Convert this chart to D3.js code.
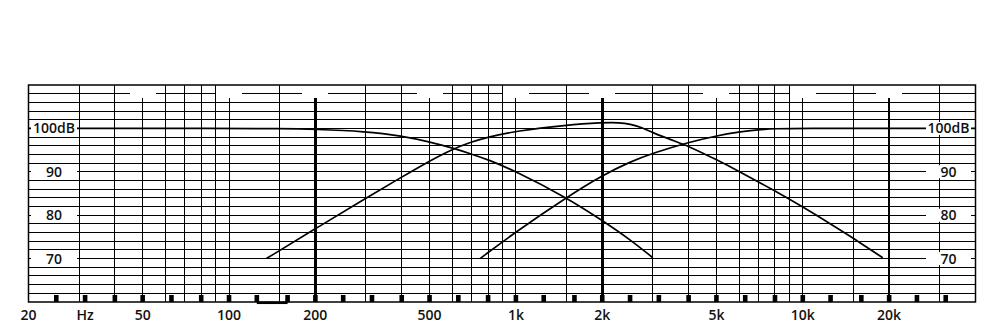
<!DOCTYPE html>
<html>
<head>
<meta charset="utf-8">
<script src="https://cdn.jsdelivr.net/npm/d3@7"></script>
<style>
  body { margin: 0; background: #fff; }
  text { font-family: "Open Sans", "DejaVu Sans", sans-serif; font-weight: 600; fill: #111; }
</style>
</head>
<body>
<div id="chart"></div>
<script>
// vertical grid lines (Hz)
var gridFull = [30, 40, 60, 70, 80, 90, 150, 300, 400, 600, 700, 800, 900,
    1500, 3000, 4000, 6000, 7000, 8000, 9000, 15000, 30000];
var gridShort = [50, 100, 500, 1000, 5000, 10000];
var gridBold = [200, 2000, 20000];

// third octave marks on the bottom edge
var bandTicks = [25, 31.5, 40, 50, 63, 80, 100, 125, 160, 200, 250, 315, 400, 500, 630, 800,
    1000, 1250, 1600, 2000, 2500, 3150, 4000, 5000, 6300, 8000, 10000, 12500, 16000, 20000, 25000, 31500];
var bracketBand = [125, 160];

var xTickValues = [20, 31.5, 50, 100, 200, 500, 1000, 2000, 5000, 10000, 20000];
var xTickLabels = ["20", "Hz", "50", "100", "200", "500", "1k", "2k", "5k", "10k", "20k"];

var yTickValues = [100, 90, 80, 70];
var yTickLabels = ["100dB", "90", "80", "70"];

// responses [Hz, dB]
var lowCurve = [[20, 100], [100, 100], [150, 99.95], [200, 99.8], [300, 99.3], [400, 98.3],
    [500, 96.9], [600, 95.5], [700, 94.1], [800, 92.8], [1000, 90.1], [1500, 84.1],
    [2000, 78.8], [2500, 74.4], [3000, 70.2]];
var midCurve = [[135, 70], [200, 76.9], [300, 83.9], [400, 88.8], [500, 92.5], [600, 95.2],
    [700, 96.9], [800, 98.0], [1000, 99.4], [1500, 100.8], [2000, 101.35], [2300, 101.35],
    [2500, 101.0], [2750, 100.2], [3000, 99.0], [3500, 97.3], [4000, 95.9], [5000, 92.8],
    [6000, 90.1], [8000, 85.6], [10000, 81.9], [12500, 78.0], [15000, 74.7], [19000, 70.2]];
var highCurve = [[750, 70], [1000, 76.2], [1500, 84.1], [2000, 89.2], [2500, 92.3], [3000, 94.3],
    [4000, 96.8], [5000, 98.3], [6000, 99.2], [7000, 99.7], [8000, 99.95], [10000, 100.05],
    [20000, 100], [40000, 100]];

var width = 998,
    height = 324;

var x = d3.scaleLog().domain([20, 40000]).range([28.5, 975.5]);
var y = d3.scaleLinear().domain([60, 110]).range([302, 85]);

var svg = d3.select("#chart").append("svg")
    .attr("width", width)
    .attr("height", height);

var grid = svg.append("g")
    .attr("stroke", "#000")
    .attr("shape-rendering", "crispEdges");

// horizontal lines every 2 dB (108 has gaps over the short lines)
var dbLines = d3.range(62, 108, 2);
grid.selectAll(".hline").data(dbLines).enter().append("line")
    .attr("class", "hline")
    .attr("x1", x.range()[0]).attr("x2", x.range()[1])
    .attr("y1", function (d) { return y(d); })
    .attr("y2", function (d) { return y(d); })
    .attr("stroke-width", 1);

var gapFreqs = gridShort.concat(gridBold).sort(d3.ascending);
var segs = [], start = x.range()[0];
gapFreqs.forEach(function (f) {
    segs.push([start, x(f) - 13]);
    start = x(f) + 13;
});
segs.push([start, x.range()[1]]);
grid.selectAll(".topline").data(segs).enter().append("line")
    .attr("class", "topline")
    .attr("x1", function (d) { return d[0]; })
    .attr("x2", function (d) { return d[1]; })
    .attr("y1", y(108)).attr("y2", y(108))
    .attr("stroke-width", 1);

grid.selectAll(".vfull").data(gridFull).enter().append("line")
    .attr("class", "vfull")
    .attr("x1", function (d) { return x(d); })
    .attr("x2", function (d) { return x(d); })
    .attr("y1", y(110)).attr("y2", y(60))
    .attr("stroke-width", 1);

grid.selectAll(".vshort").data(gridShort).enter().append("line")
    .attr("class", "vshort")
    .attr("x1", function (d) { return x(d); })
    .attr("x2", function (d) { return x(d); })
    .attr("y1", y(107)).attr("y2", y(60))
    .attr("stroke-width", 1);

grid.selectAll(".vbold").data(gridBold).enter().append("line")
    .attr("class", "vbold")
    .attr("x1", function (d) { return x(d); })
    .attr("x2", function (d) { return x(d); })
    .attr("y1", y(107)).attr("y2", y(60))
    .attr("stroke-width", 2.5);

// response curves
var line = d3.line()
    .x(function (d) { return x(d[0]); })
    .y(function (d) { return y(d[1]); })
    .curve(d3.curveBasis);

svg.selectAll(".curve").data([lowCurve, midCurve, highCurve]).enter().append("path")
    .attr("class", "curve")
    .attr("d", line)
    .attr("fill", "none")
    .attr("stroke", "#000")
    .attr("stroke-width", 1.7);

// dB labels on both sides, masking the lines behind them
[[31, 77], [926, 971]].forEach(function (side) {
    var g = svg.append("g");
    g.selectAll("rect").data(yTickValues).enter().append("rect")
        .attr("x", side[0])
        .attr("width", side[1] - side[0])
        .attr("y", function (d) { return y(d) - 6.5; })
        .attr("height", 13)
        .attr("fill", "#fff");
    g.selectAll("text").data(yTickValues).enter().append("text")
        .attr("x", (side[0] + side[1]) / 2)
        .attr("y", function (d) { return y(d); })
        .attr("dy", "0.36em")
        .attr("text-anchor", "middle")
        .style("font-size", "14px")
        .text(function (d, i) { return yTickLabels[i]; });
});

// frame
svg.append("rect")
    .attr("x", x.range()[0]).attr("y", y(110))
    .attr("width", x.range()[1] - x.range()[0])
    .attr("height", y(60) - y(110))
    .attr("fill", "none")
    .attr("stroke", "#000")
    .attr("stroke-width", 1.5);

// band marks and bracket
svg.selectAll(".band").data(bandTicks).enter().append("rect")
    .attr("class", "band")
    .attr("x", function (d) { return x(d) - 2.3; })
    .attr("y", y(60) - 7)
    .attr("width", 4.6)
    .attr("height", 7)
    .attr("fill", "#000");

svg.append("line")
    .attr("x1", x(bracketBand[0])).attr("x2", x(bracketBand[1]))
    .attr("y1", y(60) + 0.8).attr("y2", y(60) + 0.8)
    .attr("stroke", "#000")
    .attr("stroke-width", 2.5);

// frequency labels
svg.selectAll(".xlab").data(xTickValues).enter().append("text")
    .attr("class", "xlab")
    .attr("x", function (d) { return x(d); })
    .attr("y", 320)
    .attr("text-anchor", "middle")
    .style("font-size", "14px")
    .text(function (d, i) { return xTickLabels[i]; });
</script>
</body>
</html>
